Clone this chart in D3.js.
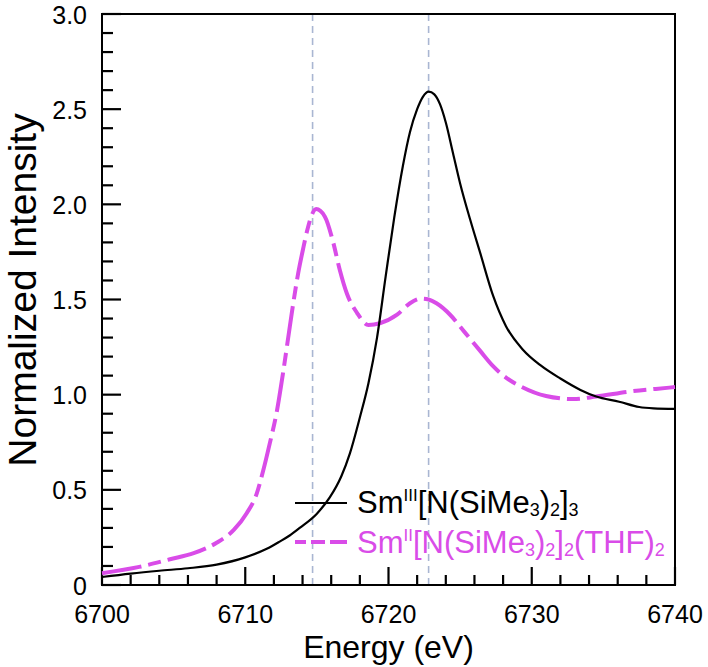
<!DOCTYPE html>
<html><head><meta charset="utf-8">
<script src="https://cdn.jsdelivr.net/npm/d3@7"></script>
<style>body{margin:0;background:#fff}svg{display:block}text{font-family:"Liberation Sans",Arial,sans-serif}</style>
</head><body>
<svg id="chart" width="708" height="667"></svg>
<script>
// ---- data ----
const smIIIEnergy = [6700.0,6702.0,6704.0,6706.0,6708.0,6710.0,6711.5,6712.4,6713.1,6713.8,6715.0,6715.9,6716.7,6717.3,6718.0,6718.6,6719.2,6719.8,6720.4,6721.0,6721.5,6722.0,6722.4,6722.8,6723.2,6723.6,6724.0,6724.5,6725.0,6725.7,6726.4,6727.3,6728.2,6729.4,6730.6,6732.0,6733.4,6734.5,6736.1,6737.5,6738.5,6740.0];
const smIIIIntensity = [0.042,0.06,0.075,0.088,0.107,0.145,0.19,0.228,0.26,0.30,0.375,0.46,0.57,0.69,0.88,1.06,1.30,1.62,1.93,2.20,2.38,2.50,2.565,2.592,2.578,2.525,2.43,2.27,2.11,1.92,1.745,1.52,1.36,1.235,1.155,1.085,1.025,0.99,0.963,0.935,0.928,0.925];
const smIIEnergy = [6700.0,6702.6,6704.75,6706.4,6708.0,6709.2,6710.1,6710.8,6711.25,6711.7,6712.2,6712.65,6713.0,6713.35,6713.7,6714.05,6714.35,6714.6,6714.95,6715.56,6716.14,6716.6,6717.1,6717.8,6718.6,6719.4,6720.6,6721.5,6722.3,6722.8,6723.35,6724.3,6725.3,6726.4,6727.3,6728.2,6729.2,6731.0,6732.9,6734.5,6736.8,6739.6,6740.0];
const smIIIntensity = [0.062,0.095,0.135,0.167,0.222,0.289,0.377,0.48,0.60,0.74,0.91,1.12,1.30,1.48,1.64,1.77,1.87,1.935,1.975,1.935,1.80,1.655,1.53,1.43,1.366,1.375,1.42,1.48,1.505,1.50,1.48,1.42,1.33,1.23,1.15,1.09,1.045,0.993,0.977,0.99,1.016,1.037,1.04];
const refLines = [6714.7, 6722.8];
const xMajorTicks = [6700, 6710, 6720, 6730, 6740];
const xMinorTicks = [6702, 6704, 6706, 6708, 6712, 6714, 6716, 6718, 6722, 6724, 6726, 6728, 6732, 6734, 6736, 6738];
const yMajorTicks = [0, 0.5, 1.0, 1.5, 2.0, 2.5, 3.0];
const yMinorTicks = [0.1,0.2,0.3,0.4,0.6,0.7,0.8,0.9,1.1,1.2,1.3,1.4,1.6,1.7,1.8,1.9,2.1,2.2,2.3,2.4,2.6,2.7,2.8,2.9];
const yTickLabels = ["0", "0.5", "1.0", "1.5", "2.0", "2.5", "3.0"];

const svg = d3.select("#chart");
const L = 102, R = 675, T = 14, B = 585;
const x = d3.scaleLinear().domain([6700, 6740]).range([L, R]);
const y = d3.scaleLinear().domain([0, 3]).range([B, T]);
const magenta = "#d94ce8";

// reference dashed lines
svg.selectAll(".ref").data(refLines).enter().append("line")
  .attr("x1", d => x(d)).attr("x2", d => x(d)).attr("y1", T).attr("y2", B)
  .attr("stroke", "#a9b6d2").attr("stroke-width", 1.6).attr("stroke-dasharray", "7,5");

// frame
svg.append("rect").attr("x", L).attr("y", T).attr("width", R - L).attr("height", B - T)
  .attr("fill", "none").attr("stroke", "#000").attr("stroke-width", 2);

// inward ticks
const tickPath = (x1, y1, x2, y2) => `M${x1},${y1}L${x2},${y2}`;
svg.selectAll(".xmin").data(xMinorTicks).enter().append("path").attr("class", "xmin")
  .attr("d", d => tickPath(x(d), B, x(d), B - 10)).attr("stroke", "#000").attr("stroke-width", 2.2).attr("fill", "none");
svg.selectAll(".xmaj").data(xMajorTicks).enter().append("path").attr("class", "xmaj")
  .attr("d", d => tickPath(x(d), B, x(d), B - 18)).attr("stroke", "#000").attr("stroke-width", 2.2).attr("fill", "none");
svg.selectAll(".ymin").data(yMinorTicks).enter().append("path").attr("class", "ymin")
  .attr("d", d => tickPath(L, y(d), L + 11, y(d))).attr("stroke", "#000").attr("stroke-width", 2.2).attr("fill", "none");
svg.selectAll(".ymaj").data(yMajorTicks).enter().append("path").attr("class", "ymaj")
  .attr("d", d => tickPath(L, y(d), L + 19, y(d))).attr("stroke", "#000").attr("stroke-width", 2.2).attr("fill", "none");

// tick labels
svg.selectAll(".xlab").data(xMajorTicks).enter().append("text").attr("class", "xlab")
  .attr("x", d => x(d)).attr("y", 623).attr("text-anchor", "middle")
  .attr("font-size", 25).text(d => d3.format("d")(d));
svg.selectAll(".ylab").data(yMajorTicks).enter().append("text").attr("class", "ylab")
  .attr("x", 87).attr("y", d => y(d)).attr("dy", "0.38em").attr("text-anchor", "end")
  .attr("font-size", 25).text((d, i) => yTickLabels[i]);

// curves
const line = d3.line().x(d => x(d[0])).y(d => y(d[1])).curve(d3.curveMonotoneX);
svg.append("path").datum(smIIEnergy.map((e, i) => [e, smIIIntensity[i]]))
  .attr("d", line).attr("fill", "none").attr("stroke", magenta).attr("stroke-width", 4)
  .attr("stroke-dasharray", "40,7,13,7");
svg.append("path").datum(smIIIEnergy.map((e, i) => [e, smIIIIntensity[i]]))
  .attr("d", line).attr("fill", "none").attr("stroke", "#000").attr("stroke-width", 2.2);

// axis titles
svg.append("text").attr("x", (L + R) / 2).attr("y", 658).attr("text-anchor", "middle")
  .attr("font-size", 32).text("Energy (eV)");
svg.append("text").attr("transform", "translate(36,290) rotate(-90)")
  .attr("text-anchor", "middle").attr("font-size", 39).text("Normalized Intensity");

// legend
svg.append("line").attr("x1", 295).attr("x2", 347).attr("y1", 503).attr("y2", 503)
  .attr("stroke", "#000").attr("stroke-width", 2.2);
svg.append("line").attr("x1", 295).attr("x2", 347).attr("y1", 542).attr("y2", 542)
  .attr("stroke", magenta).attr("stroke-width", 4).attr("stroke-dasharray", "11,5,14,5,17");

function richText(xp, yp, color, parts) {
  const t = svg.append("text").attr("x", xp).attr("y", yp).attr("font-size", 31).attr("fill", color);
  parts.forEach(p => {
    const s = t.append("tspan").text(p[0]);
    if (p[1] === "sup") s.attr("font-size", 17);
    else if (p[1] === "sub") s.attr("font-size", 18);
    s.attr("dy", p[2] || 0);
  });
}
richText(357, 513, "#000", [["Sm"], ["III", "sup", -12], ["[N(SiMe", null, 12], ["3", "sub", 3], [")", null, -3], ["2", "sub", 3], ["]", null, -3], ["3", "sub", 3]]);
richText(357, 553, magenta, [["Sm"], ["II", "sup", -12], ["[N(SiMe", null, 12], ["3", "sub", 3], [")", null, -3], ["2", "sub", 3], ["]", null, -3], ["2", "sub", 3], ["(THF)", null, -3], ["2", "sub", 3]]);
</script>
</body></html>
